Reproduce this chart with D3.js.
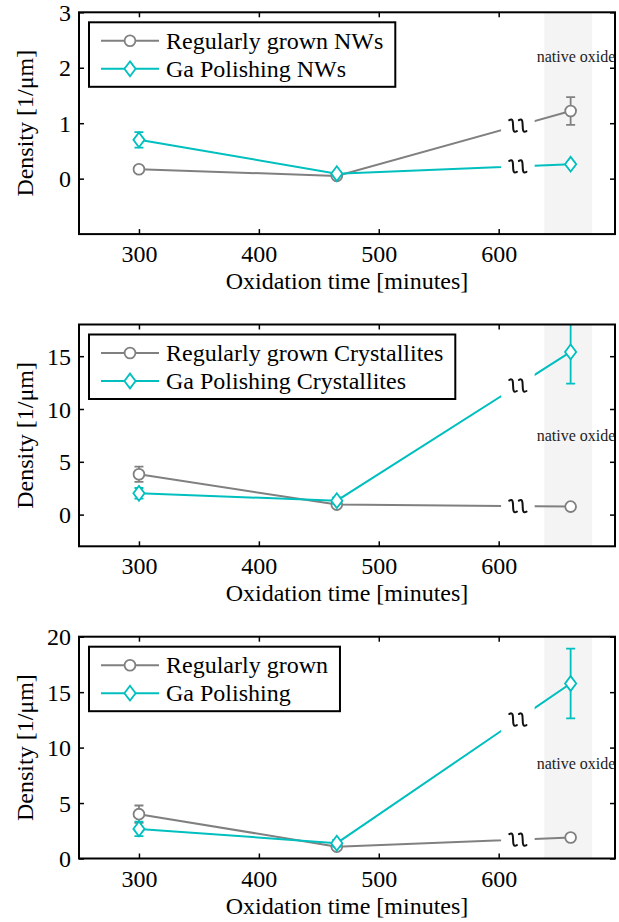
<!DOCTYPE html>
<html>
<head>
<meta charset="utf-8">
<script src="https://cdn.jsdelivr.net/npm/d3@7"></script>
<style>
  body { margin: 0; background: #fff; }
  svg { display: block; }
  text { font-family: "Liberation Serif", "Times New Roman", Times, serif; fill: #000; }
</style>
</head>
<body>
<svg id="chart" width="619" height="922"></svg>
<script>
// Oxidation times (minutes) of the three samples
const times = [300, 465, 660];
const xTicks = [300, 400, 500, 600];
const xDomain = [250, 697];
// Shaded "native oxide" interval and the axis break drawn before it
const oxideBand = [638, 678];
const breakGap = [602, 630];
const breakAt = 616;

// Panel 1: nanowires
const regularNWs = [0.17, 0.05, 1.22];
const regularNWsErr = [0.05, 0.03, 0.25];
const gaNWs = [0.70, 0.09, 0.26];
const gaNWsErr = [0.14, 0.03, 0.04];

// Panel 2: crystallites
const regularCryst = [3.82, 0.95, 0.76];
const regularCrystErr = [0.72, 0.2, 0.2];
const gaCryst = [2.02, 1.32, 15.4];
const gaCrystErr = [0.5, 0.3, 3.0];

// Panel 3: all structures
const regularAll = [4.0, 1.07, 1.89];
const regularAllErr = [0.78, 0.2, 0.2];
const gaAll = [2.67, 1.38, 15.78];
const gaAllErr = [0.65, 0.3, 3.15];

const legendRegular = ["Regularly grown NWs", "Regularly grown Crystallites", "Regularly grown"];
const legendGa = ["Ga Polishing NWs", "Ga Polishing Crystallites", "Ga Polishing"];
const yDomains = [[-1, 3], [-3, 18], [0, 20]];
const yTicks = [[0, 1, 2, 3], [0, 5, 10, 15], [0, 5, 10, 15, 20]];
// height (in density units) of the "native oxide" note in each panel
const oxideNoteY = [2.2, 7.5, 8.5];

const panels = [
  { reg: regularNWs, regErr: regularNWsErr, ga: gaNWs, gaErr: gaNWsErr },
  { reg: regularCryst, regErr: regularCrystErr, ga: gaCryst, gaErr: gaCrystErr },
  { reg: regularAll, regErr: regularAllErr, ga: gaAll, gaErr: gaAllErr }
].map((p, i) => Object.assign(p, {
  yDomain: yDomains[i], yTicks: yTicks[i], noteY: oxideNoteY[i],
  regLabel: legendRegular[i], gaLabel: legendGa[i]
}));

const GRAY = "#808080";
const CYAN = "#00bfbf";
const FONT = 24;
const SERIF = '"Liberation Serif", "Times New Roman", Times, serif';

const svg = d3.select("#chart");
const left = 79, right = 615;
const plotH = 221.8, firstTop = 12.3, step = 312.2;

const x = d3.scaleLinear().domain(xDomain).range([left, right]);

function diamondPath(cx, cy, hw, hh) {
  return `M${cx},${cy - hh}L${cx + hw},${cy}L${cx},${cy + hh}L${cx - hw},${cy}Z`;
}

function drawMarker(g, kind, cx, cy, color) {
  if (kind === "circle") {
    g.append("circle").attr("cx", cx).attr("cy", cy).attr("r", 5.4)
      .attr("fill", "#fff").attr("stroke", color).attr("stroke-width", 1.8);
  } else {
    g.append("path").attr("d", diamondPath(cx, cy, 5.6, 7.4))
      .attr("fill", "#fff").attr("stroke", color).attr("stroke-width", 1.8);
  }
}

// Squiggle pair marking the broken time axis
function drawBreak(g, cx, cy) {
  [-4.8, 4.8].forEach(dx => {
    const bx = cx + dx;
    g.append("path")
      .attr("d", `M${bx - 3.8},${cy - 5.5} C${bx + 3.5},${cy - 10} ${bx - 3.5},${cy + 10} ${bx + 3.8},${cy + 5.5}`)
      .attr("fill", "none").attr("stroke", "#111").attr("stroke-width", 2)
      .attr("stroke-linecap", "round");
  });
}

panels.forEach((p, i) => {
  const top = firstTop + i * step;
  const bottom = top + plotH;
  const y = d3.scaleLinear().domain(p.yDomain).range([bottom, top]);
  const g = svg.append("g");

  // native oxide band
  g.append("rect")
    .attr("x", x(oxideBand[0])).attr("y", top)
    .attr("width", x(oxideBand[1]) - x(oxideBand[0])).attr("height", plotH)
    .attr("fill", "#f4f4f4");

  g.append("text")
    .attr("x", 576).attr("y", y(p.noteY))
    .attr("dy", "0.32em")
    .attr("text-anchor", "middle")
    .attr("font-size", 16)
    .style("fill", "#222")
    .text("native oxide");

  // clip lines so they stop at the axis break
  const clipId = "gap" + i;
  const clip = svg.append("clipPath").attr("id", clipId);
  clip.append("rect").attr("x", left).attr("y", top - 20)
    .attr("width", x(breakGap[0]) - left).attr("height", plotH + 40);
  clip.append("rect").attr("x", x(breakGap[1])).attr("y", top - 20)
    .attr("width", right - x(breakGap[1])).attr("height", plotH + 40);

  const series = [
    { vals: p.reg, err: p.regErr, color: GRAY, kind: "circle" },
    { vals: p.ga, err: p.gaErr, color: CYAN, kind: "diamond" }
  ];

  const plotClip = "plot" + i;
  svg.append("clipPath").attr("id", plotClip).append("rect")
    .attr("x", left).attr("y", top).attr("width", right - left).attr("height", plotH);

  const dataG = g.append("g").attr("clip-path", `url(#${plotClip})`);

  series.forEach(s => {
    const pts = times.map((t, k) => [t, s.vals[k], s.err[k]]);
    const line = d3.line().x(d => x(d[0])).y(d => y(d[1]));
    dataG.append("path").datum(pts)
      .attr("clip-path", `url(#${clipId})`)
      .attr("d", line)
      .attr("fill", "none").attr("stroke", s.color).attr("stroke-width", 2);

    // error bars
    pts.forEach(d => {
      const cx = x(d[0]);
      const y0 = y(d[1] - d[2]), y1 = y(d[1] + d[2]);
      const eg = dataG.append("g").attr("stroke", s.color).attr("stroke-width", 1.8);
      eg.append("line").attr("x1", cx).attr("x2", cx).attr("y1", y0).attr("y2", y1);
      eg.append("line").attr("x1", cx - 4.5).attr("x2", cx + 4.5).attr("y1", y0).attr("y2", y0);
      eg.append("line").attr("x1", cx - 4.5).attr("x2", cx + 4.5).attr("y1", y1).attr("y2", y1);
    });
    pts.forEach(d => drawMarker(dataG, s.kind, x(d[0]), y(d[1]), s.color));
  });

  // break marks sitting on each line
  series.forEach(s => {
    const v = s.vals[1] + (s.vals[2] - s.vals[1]) * (breakAt - times[1]) / (times[2] - times[1]);
    drawBreak(g, x(breakAt), y(v));
  });

  // axes with inward ticks on all four sides
  const xb = g.append("g").attr("transform", `translate(0,${bottom})`)
    .call(d3.axisBottom(x).tickValues(xTicks).tickSizeInner(-5).tickSizeOuter(0).tickFormat(d3.format("d")));
  xb.selectAll("text").attr("y", 28).attr("dy", null);
  g.append("g").attr("transform", `translate(0,${top})`)
    .call(d3.axisTop(x).tickValues(xTicks).tickSizeInner(-5).tickSizeOuter(0).tickFormat(""));
  const yl = g.append("g").attr("transform", `translate(${left},0)`)
    .call(d3.axisLeft(y).tickValues(p.yTicks).tickSizeInner(-5).tickSizeOuter(0).tickFormat(d3.format("d")));
  yl.selectAll("text").attr("x", -8).attr("dy", "0.34em");
  g.append("g").attr("transform", `translate(${right},0)`)
    .call(d3.axisRight(y).tickValues(p.yTicks).tickSizeInner(-5).tickSizeOuter(0).tickFormat(""));
  g.selectAll(".domain").remove();
  g.selectAll(".tick").each(function () {
    d3.select(this.parentNode).attr("font-family", SERIF).attr("font-size", FONT);
  });
  g.selectAll(".tick line").attr("stroke", "#000").attr("stroke-width", 1.5);
  g.selectAll(".tick text").attr("fill", "#000").style("font-family", SERIF).style("font-size", FONT + "px");

  g.append("rect").attr("x", left).attr("y", top).attr("width", right - left).attr("height", plotH)
    .attr("fill", "none").attr("stroke", "#000").attr("stroke-width", 2);

  // axis titles
  g.append("text").attr("x", (left + right) / 2).attr("y", bottom + 55)
    .attr("text-anchor", "middle").attr("font-size", FONT).text("Oxidation time [minutes]");
  g.append("text").attr("transform", `translate(33,${(top + bottom) / 2}) rotate(-90)`)
    .attr("text-anchor", "middle").attr("font-size", FONT).text("Density [1/\u03bcm]");

  // legend
  const lg = g.append("g");
  const boxTop = top + 10;
  const rows = [
    { label: p.regLabel, color: GRAY, kind: "circle", cy: boxTop + 18.5 },
    { label: p.gaLabel, color: CYAN, kind: "diamond", cy: boxTop + 46.5 }
  ];
  const box = lg.append("rect").attr("x", 89).attr("y", boxTop).attr("height", 64.5)
    .attr("fill", "#fff").attr("stroke", "#000").attr("stroke-width", 2);
  let maxW = 0;
  rows.forEach(r => {
    lg.append("line").attr("x1", 101).attr("x2", 159).attr("y1", r.cy).attr("y2", r.cy)
      .attr("stroke", r.color).attr("stroke-width", 2);
    drawMarker(lg, r.kind, 130, r.cy, r.color);
    const t = lg.append("text").attr("x", 166).attr("y", r.cy + 8).attr("font-size", FONT).text(r.label);
    maxW = Math.max(maxW, t.node().getComputedTextLength());
  });
  box.attr("width", 166 + maxW + 12 - 89);
});
</script>
</body>
</html>
